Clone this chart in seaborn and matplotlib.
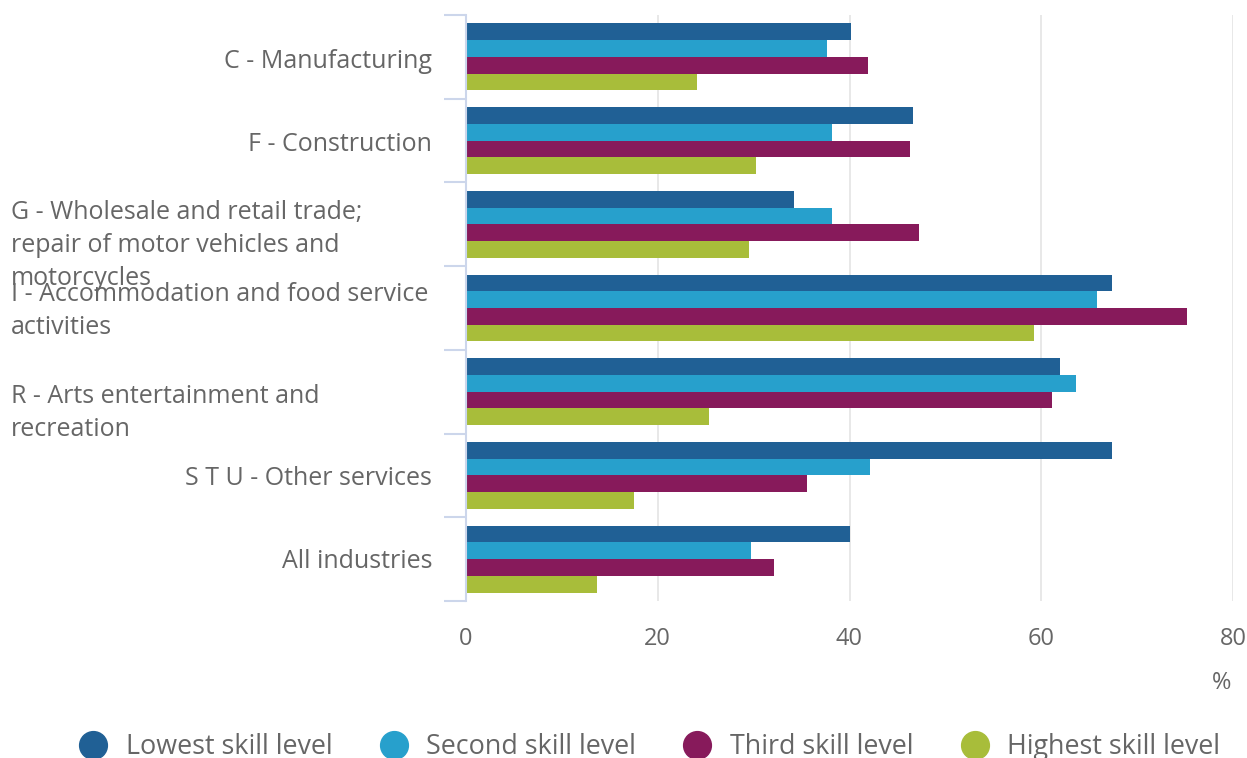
import matplotlib
matplotlib.use("Agg")
import matplotlib.pyplot as plt
import matplotlib.transforms as mtransforms
from matplotlib.lines import Line2D
import seaborn as sns
import pandas as pd

# Industries (categories) and share of workers, % by skill level
industries = [
    "C - Manufacturing",
    "F - Construction",
    "G - Wholesale and retail trade;\nrepair of motor vehicles and\nmotorcycles",
    "I - Accommodation and food service\nactivities",
    "R - Arts entertainment and\nrecreation",
    "S T U - Other services",
    "All industries",
]
skill_levels = ["Lowest skill level", "Second skill level",
                "Third skill level", "Highest skill level"]
lowest = [40.2, 46.6, 34.2, 67.4, 62.0, 67.4, 40.0]
second = [37.7, 38.2, 38.2, 65.8, 63.6, 42.1, 29.7]
third = [41.9, 46.3, 47.2, 75.2, 61.1, 35.6, 32.1]
highest = [24.1, 30.2, 29.5, 59.2, 25.3, 17.5, 13.7]
x_ticks = [0, 20, 40, 60, 80]

colors = ["#206095", "#27a0cc", "#871a5b", "#a8bd3a"]
text_color = "#666666"

df = pd.DataFrame({
    "industry": industries * 4,
    "level": [lvl for lvl in skill_levels for _ in industries],
    "value": lowest + second + third + highest,
})

sns.set_theme(style="white")
plt.rcParams["font.family"] = ["Open Sans", "DejaVu Sans"]

fig = plt.figure(figsize=(12.47, 7.58), dpi=100)
ax = fig.add_axes([466 / 1247, 1 - 601 / 758, (1233 - 466) / 1247, (601 - 15) / 758])

sns.barplot(data=df, y="industry", x="value", hue="level", order=industries,
            hue_order=skill_levels, palette=colors, orient="h", width=0.8,
            linewidth=0, saturation=1, ax=ax, legend=False)

ax.set_xlim(0, 80)
ax.set_ylim(len(industries) - 0.5, -0.5)
ax.set_xticks(x_ticks)
ax.set_xticklabels([str(t) for t in x_ticks], color=text_color, fontsize=17)
ax.tick_params(axis="x", length=0, pad=19)
ax.xaxis.grid(True, color="#e6e6e6", linewidth=1.3)
ax.set_axisbelow(True)
ax.set_xlabel("")
ax.set_ylabel("")

# y axis: light line with tick marks between categories
for side in ["top", "right", "bottom"]:
    ax.spines[side].set_visible(False)
ax.spines["left"].set_color("#ccd6eb")
ax.spines["left"].set_linewidth(1.5)
ax.set_yticks([i - 0.5 for i in range(len(industries) + 1)])
ax.set_yticklabels([])
ax.tick_params(axis="y", length=16, width=1.5, color="#ccd6eb", left=True)

# category labels: single-line ones right-aligned, wrapped ones left-aligned
blend = mtransforms.blended_transform_factory(fig.transFigure, ax.transData)
label_shift_px = [5, 4, 21, 3, 21, 3, 2]
for i, (name, shift) in enumerate(zip(industries, label_shift_px)):
    tr = blend + mtransforms.ScaledTranslation(0, -shift / 100, fig.dpi_scale_trans)
    if "\n" in name:
        ax.text(11 / 1247, i, name, transform=tr, ha="left", va="center",
                fontsize=18, color=text_color, linespacing=1.43,
                multialignment="left")
    else:
        ax.text(432 / 1247, i, name, transform=tr, ha="right", va="center",
                fontsize=18, color=text_color)

fig.text(1222 / 1247, 1 - 683 / 758, "%", ha="center", va="center",
         fontsize=17, color=text_color)

handles = [Line2D([0], [0], marker="o", linestyle="", markersize=20,
                  markerfacecolor=c, markeredgecolor=c) for c in colors]
fig.legend(handles, skill_levels, loc="center", ncol=4,
           bbox_to_anchor=(650 / 1247, 1 - 747 / 758), frameon=False,
           fontsize=19.4, labelcolor=text_color, handletextpad=0.7,
           columnspacing=1.78, handlelength=1.0)

fig.savefig("out.png", dpi=100)
